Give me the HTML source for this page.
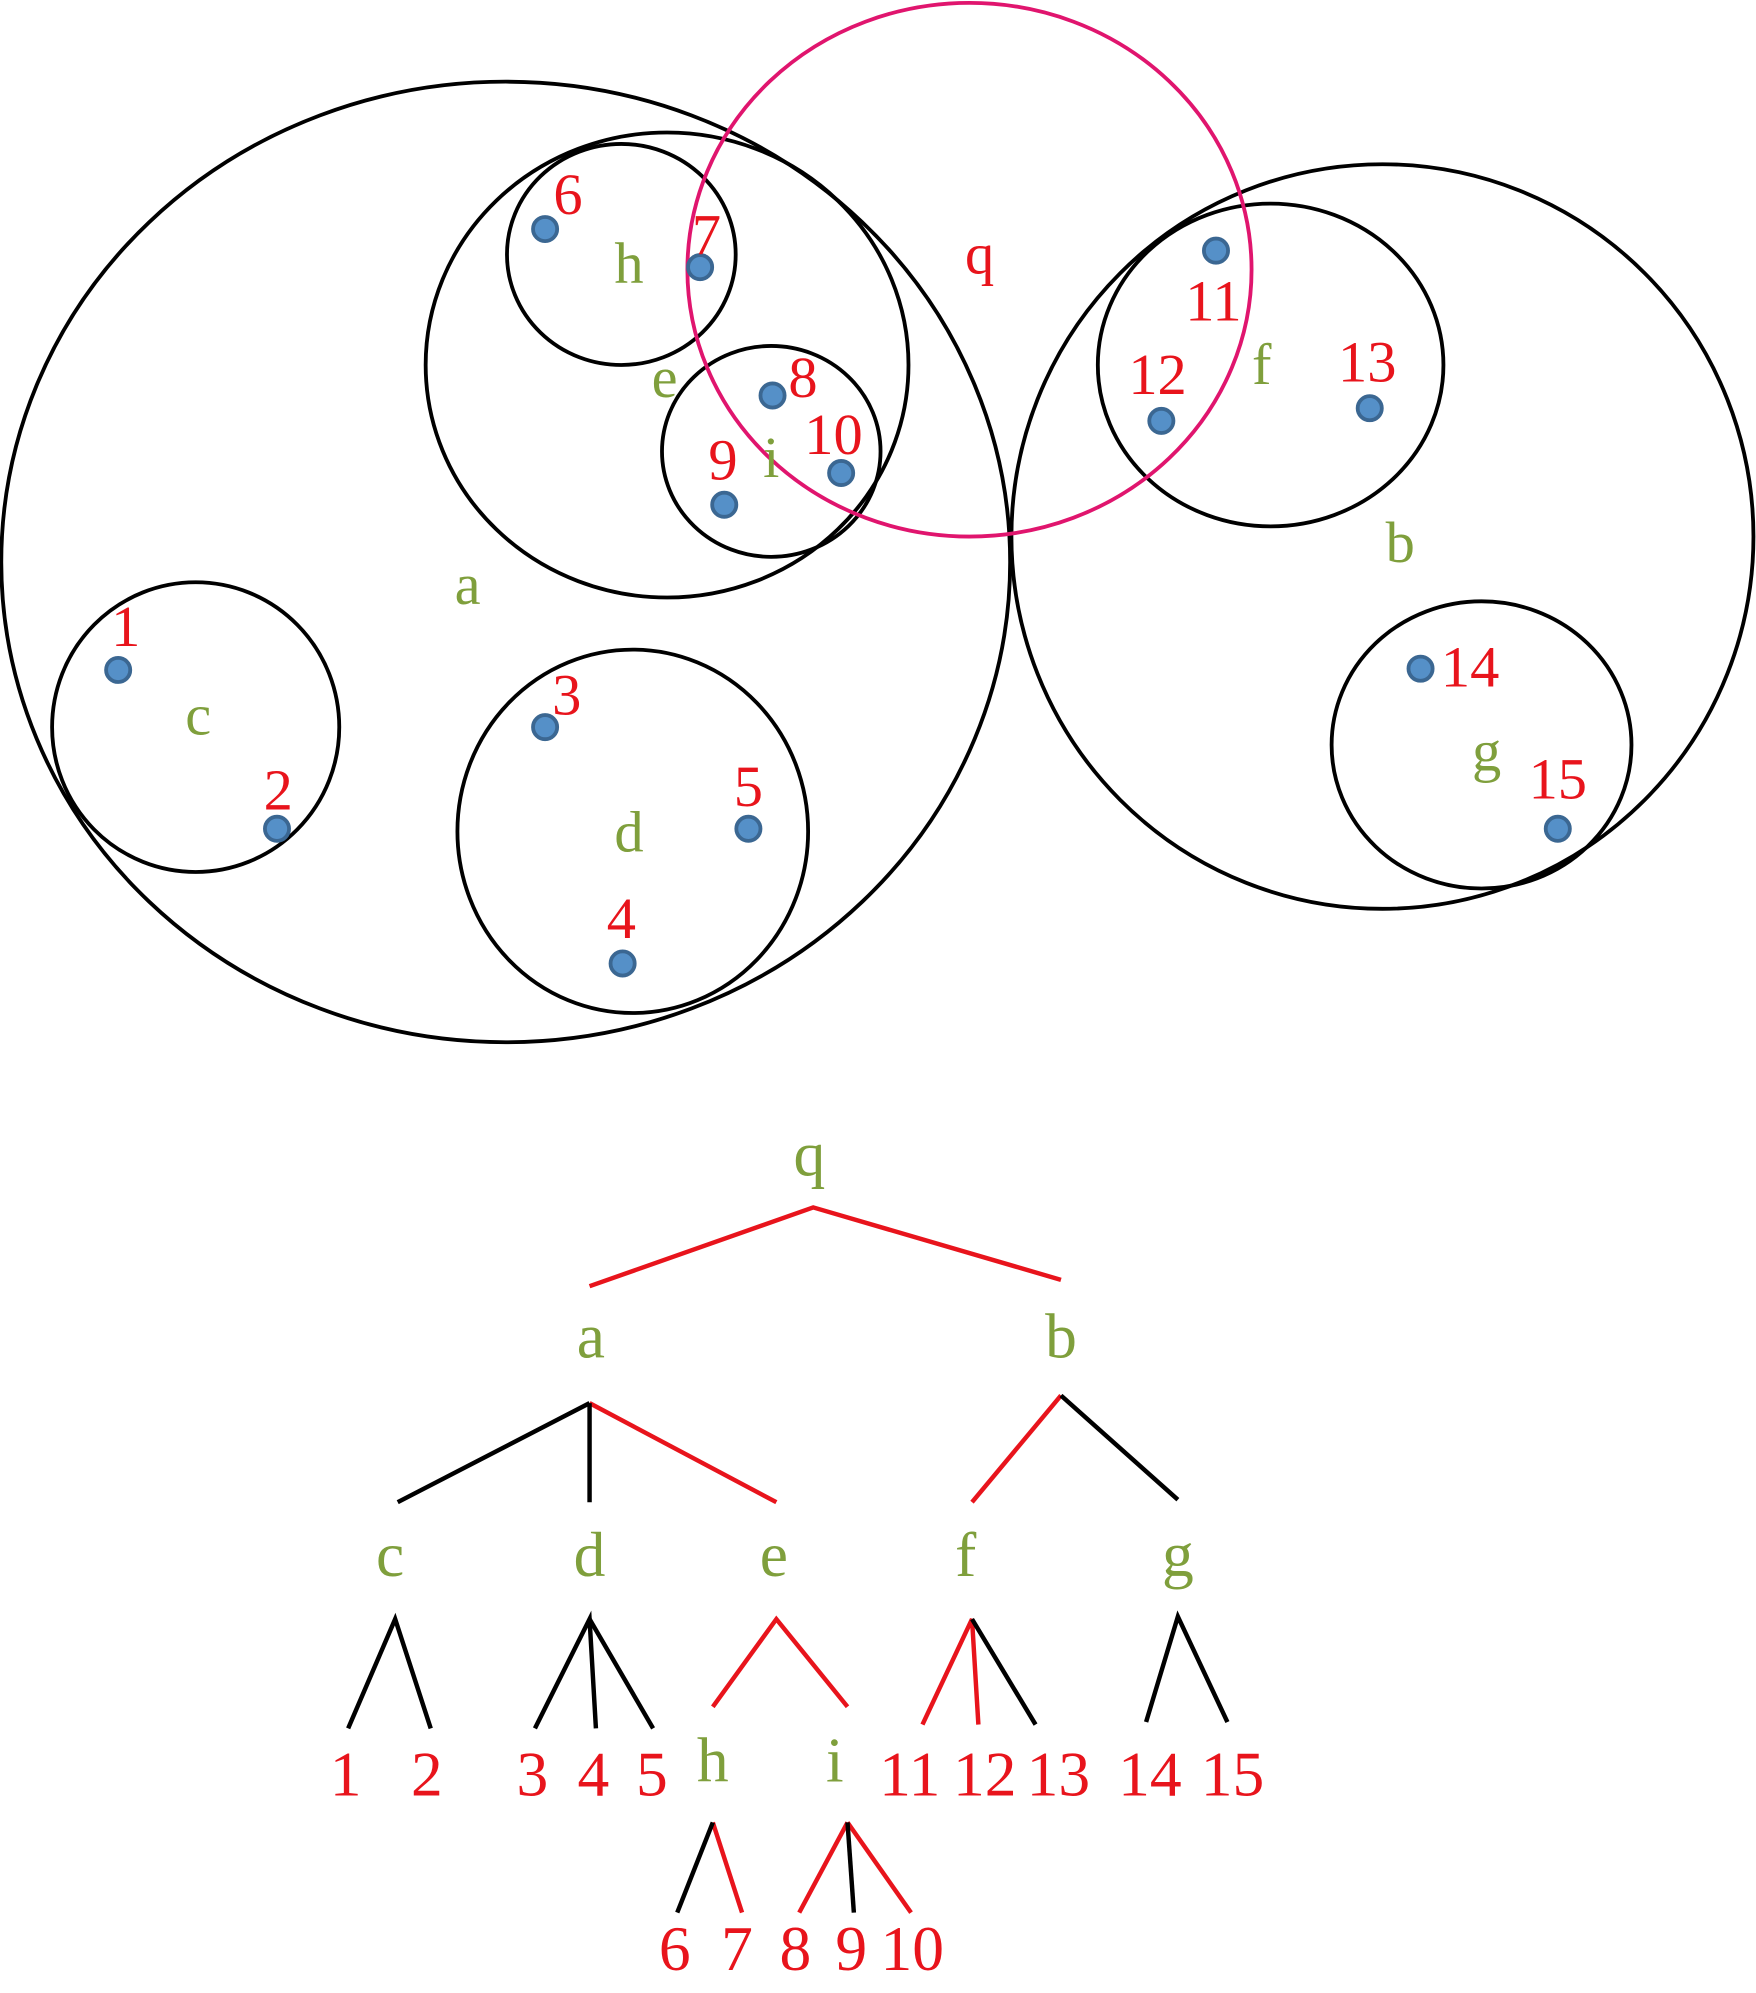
<!DOCTYPE html>
<html><head><style>html,body{margin:0;padding:0;background:#fff}svg{display:block}</style></head><body>
<svg width="1756" height="1993" viewBox="0 0 1382 1568" xmlns="http://www.w3.org/2000/svg">
<g fill="none" stroke="#000" stroke-width="3">
<ellipse cx="398" cy="442" rx="397" ry="378"/>
<ellipse cx="525" cy="287" rx="190" ry="183"/>
<ellipse cx="489" cy="200" rx="90" ry="87"/>
<ellipse cx="607" cy="355" rx="86" ry="83"/>
<ellipse cx="154" cy="572" rx="113" ry="114"/>
<ellipse cx="498" cy="654" rx="138" ry="143"/>
<ellipse cx="1088" cy="422" rx="292" ry="293"/>
<ellipse cx="1000" cy="287" rx="136" ry="127"/>
<ellipse cx="1166" cy="586" rx="118" ry="113"/>
</g>
<ellipse cx="763" cy="212" rx="222" ry="210" fill="none" stroke="#e0156e" stroke-width="3"/>
<g fill="#5590c8" stroke="#3b6792" stroke-width="3">
<circle cx="429" cy="180" r="9.5"/><circle cx="551" cy="210" r="9.5"/><circle cx="608" cy="311" r="9.5"/>
<circle cx="570" cy="397" r="9.5"/><circle cx="662" cy="372" r="9.5"/><circle cx="93" cy="527" r="9.5"/>
<circle cx="218" cy="652" r="9.5"/><circle cx="429" cy="572" r="9.5"/><circle cx="589" cy="652" r="9.5"/>
<circle cx="490" cy="758" r="9.5"/><circle cx="957" cy="197" r="9.5"/><circle cx="914" cy="331" r="9.5"/>
<circle cx="1078" cy="321" r="9.5"/><circle cx="1118" cy="526" r="9.5"/><circle cx="1226" cy="652" r="9.5"/>
</g>
<g font-family="Liberation Serif, serif" font-size="46" text-anchor="middle">
<g fill="#e8141c">
<text x="447" y="168">6</text><text x="556" y="200">7</text><text x="632" y="312">8</text>
<text x="569" y="377">9</text><text x="656" y="357">10</text><text x="771" y="215">q</text>
<text x="99" y="508">1</text><text x="219" y="637">2</text><text x="446" y="562">3</text>
<text x="489" y="738">4</text><text x="589" y="634">5</text><text x="955" y="252">11</text>
<text x="911" y="310">12</text><text x="1076" y="300">13</text><text x="1157" y="540">14</text>
<text x="1226" y="628">15</text>
</g>
<g fill="#7f9f3c">
<text x="368" y="475">a</text><text x="523" y="312">e</text><text x="495" y="222">h</text>
<text x="607" y="375">i</text><text x="156" y="578">c</text><text x="495" y="670">d</text>
<text x="1102" y="442">b</text><text x="993" y="302">f</text><text x="1170" y="606">g</text>
</g>
</g>
<g fill="none" stroke-width="3.5">
<g stroke="#e8141c">
<polyline points="464,1012 640,950 835,1007"/>
<line x1="464" y1="1104" x2="611" y2="1182"/>
<line x1="765" y1="1182" x2="835" y2="1098"/>
<polyline points="561,1343 611,1274 667,1343"/>
<polyline points="726,1357 765,1274 770,1357"/>
<line x1="561" y1="1434" x2="584" y2="1505"/>
<line x1="629" y1="1505" x2="667" y2="1434"/>
<line x1="667" y1="1434" x2="717" y2="1505"/>
</g>
<g stroke="#000">
<line x1="313" y1="1182" x2="464" y2="1104"/>
<line x1="464" y1="1104" x2="464" y2="1182"/>
<line x1="835" y1="1098" x2="927" y2="1180"/>
<polyline points="274,1360 311,1274 339,1360"/>
<polyline points="421,1360 464,1274 469,1360"/>
<line x1="464" y1="1274" x2="514" y2="1360"/>
<line x1="765" y1="1274" x2="815" y2="1357"/>
<polyline points="902,1355 927,1272 966,1355"/>
<line x1="533" y1="1505" x2="561" y2="1434"/>
<line x1="667" y1="1434" x2="672" y2="1505"/>
</g>
</g>
<g font-family="Liberation Serif, serif" font-size="50" text-anchor="middle">
<g fill="#7f9f3c">
<text x="637" y="925">q</text><text x="465" y="1068">a</text><text x="835" y="1068">b</text>
<text x="307" y="1240">c</text><text x="464" y="1240">d</text><text x="609" y="1240">e</text>
<text x="760" y="1240">f</text><text x="927" y="1240">g</text><text x="561" y="1402">h</text>
<text x="657" y="1402">i</text>
</g>
<g fill="#e8141c">
<text x="272" y="1413">1</text><text x="336" y="1413">2</text><text x="419" y="1413">3</text>
<text x="467" y="1413">4</text><text x="513" y="1413">5</text><text x="716" y="1413">11</text>
<text x="775" y="1413">12</text><text x="833" y="1413">13</text><text x="905" y="1413">14</text>
<text x="970" y="1413">15</text>
<text x="531" y="1550">6</text><text x="580" y="1550">7</text><text x="626" y="1550">8</text>
<text x="670" y="1550">9</text><text x="718" y="1550">10</text>
</g>
</g>
</svg>
</body></html>
